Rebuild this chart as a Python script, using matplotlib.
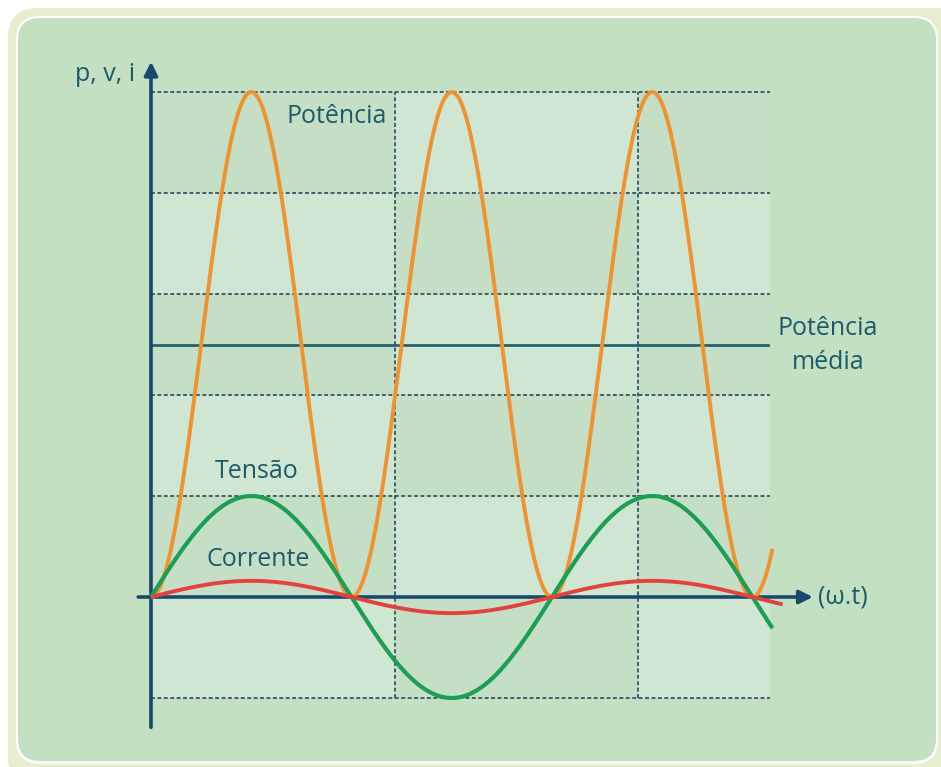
import numpy as np
import matplotlib

matplotlib.use("Agg")
import matplotlib.pyplot as plt
from matplotlib.patches import FancyBboxPatch, Rectangle

plt.rcParams["font.family"] = ["Open Sans", "DejaVu Sans"]

# ---- values (y in grid units, x = omega*t in rad) ----
P_PEAK = 5.0          # power peak
P_MEAN = 2.5          # average power line
V_PEAK = 1.0          # voltage amplitude
I_PEAK = 0.16         # current amplitude
WT_END_PV = 3.10 * np.pi
WT_END_I = 3.15 * np.pi
GRID_Y = [-1, 1, 2, 3, 4, 5]
GRID_X = [3.82, 7.63]
CELL_X = [0.0, 3.82, 7.63, 9.70]
CELL_Y = [5, 4, 3, 2, 1, 0, -1]

TEXT = "#1b5a6a"
AXIS = "#19496e"
ORANGE = "#f0932f"
GREEN = "#1c9f55"
RED = "#e2423b"

fig = plt.figure(figsize=(9.41, 7.67), dpi=100)

# ---- rounded frame, pixel coordinates ----
bg = fig.add_axes([0, 0, 1, 1])
bg.set_xlim(0, 941)
bg.set_ylim(767, 0)
bg.axis("off")
bg.add_patch(FancyBboxPatch((8, 8), 960, 780, boxstyle="round,pad=0,rounding_size=30",
                            fc="#e7eed0", ec="none"))
bg.add_patch(FancyBboxPatch((16, 16), 922, 748, boxstyle="round,pad=0,rounding_size=24",
                            fc="white", ec="none"))
bg.add_patch(FancyBboxPatch((18, 18), 918, 743, boxstyle="round,pad=0,rounding_size=22",
                            fc="#c3e0c3", ec="none"))

# ---- data axes ----
ax = fig.add_axes([0, 0, 1, 1])
ax.patch.set_alpha(0)
ax.set_xlim((0 - 151) / 200.5 * np.pi, (941 - 151) / 200.5 * np.pi)
ax.set_ylim((597 - 767) / 101, 597 / 101)
ax.axis("off")

# checkerboard cells
for r in range(len(CELL_Y) - 1):
    for c in range(len(CELL_X) - 1):
        col = "#c5dfc7" if (r + c) % 2 == 0 else "#cfe6d2"
        ax.add_patch(Rectangle((CELL_X[c], CELL_Y[r + 1]), CELL_X[c + 1] - CELL_X[c],
                               CELL_Y[r] - CELL_Y[r + 1], fc=col, ec="none", zorder=0))

# dotted grid
for gy in GRID_Y:
    ax.plot([0, CELL_X[-1]], [gy, gy], color="#3d5f6c", lw=1.4,
            linestyle=(0, (2.0, 1.3)), zorder=1)
for gx in GRID_X:
    ax.plot([gx, gx], [-1, 5], color="#3d5f6c", lw=1.4,
            linestyle=(0, (2.0, 1.3)), zorder=1)

# average power
ax.plot([0, CELL_X[-1] - 0.03], [P_MEAN, P_MEAN], color="#1d5e68", lw=1.9, zorder=2)

# axes with arrows
ax.annotate("", xy=(0, 5.30), xytext=(0, -1.29),
            arrowprops=dict(arrowstyle="-|>,head_length=0.8,head_width=0.4",
                            color=AXIS, lw=2.6, shrinkA=0, shrinkB=0), zorder=3)
ax.annotate("", xy=(10.37, 0), xytext=(-0.20, 0),
            arrowprops=dict(arrowstyle="-|>,head_length=0.8,head_width=0.4",
                            color=AXIS, lw=2.6, shrinkA=0, shrinkB=0), zorder=3)

# curves
wt = np.linspace(0, WT_END_PV, 800)
wt_i = np.linspace(0, WT_END_I, 800)
ax.plot(wt, P_PEAK * np.sin(wt) ** 2, color=ORANGE, lw=2.8, zorder=4,
        solid_capstyle="butt")
ax.plot(wt, V_PEAK * np.sin(wt), color=GREEN, lw=3.0, zorder=5,
        solid_capstyle="butt")
ax.plot(wt_i, I_PEAK * np.sin(wt_i), color=RED, lw=2.8, zorder=6,
        solid_capstyle="butt")

# labels
fs = 18
ax.text(-0.25, 5.17, "p, v, i", ha="right", va="center", fontsize=fs, color=TEXT)
ax.text(2.91, 4.76, "Potência", ha="center", va="center", fontsize=fs, color=TEXT)
ax.text(10.61, 2.66, "Potência", ha="center", va="center", fontsize=fs, color=TEXT)
ax.text(10.61, 2.32, "média", ha="center", va="center", fontsize=fs, color=TEXT)
ax.text(1.66, 1.24, "Tensão", ha="center", va="center", fontsize=fs, color=TEXT)
ax.text(1.68, 0.37, "Corrente", ha="center", va="center", fontsize=fs, color=TEXT)
ax.text(10.45, 0.0, "(ω.t)", ha="left", va="center", fontsize=fs, color=TEXT)

fig.savefig("out.png", dpi=100)
